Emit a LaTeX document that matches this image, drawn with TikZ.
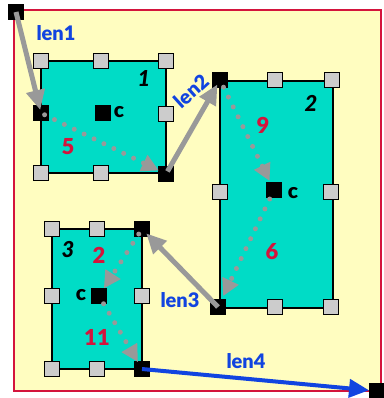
\documentclass[tikz,border=0pt]{standalone}
\usepackage{fontspec}
\setmainfont{Lato}[BoldFont={Lato Black},BoldItalicFont={Lato Black Italic}]
\usetikzlibrary{arrows.meta}
\definecolor{bgyellow}{HTML}{FFFDC0}
\definecolor{boxcyan}{HTML}{00DCC6}
\definecolor{framered}{HTML}{D4143C}
\definecolor{lenblue}{HTML}{1144E0}
\definecolor{arrgray}{HTML}{999999}
\definecolor{handlegray}{HTML}{CCCCCC}
\tikzset{
  frame/.style={draw=framered,line width=2pt,fill=bgyellow},
  boxshape/.style={draw=black,line width=2pt,fill=boxcyan,inner sep=0pt},
  hgray/.style={draw=black,line width=0.8pt,fill=handlegray,minimum size=15pt,inner sep=0pt},
  hblack/.style={draw=black,line width=0.8pt,fill=black,minimum size=15pt,inner sep=0pt},
  gline/.style={draw=arrgray,line width=5pt,-{Triangle[length=20pt,width=18pt]}},
  bline/.style={draw=lenblue,line width=4pt,-{Triangle[length=20pt,width=18pt]}},
  dline/.style={draw=arrgray,line width=5pt,line cap=round,dash pattern=on 0pt off 11pt,-{Triangle[length=17pt,width=17pt,line cap=butt]}},
  lenlab/.style={text=lenblue,font=\fontsize{20}{22}\selectfont\bfseries,inner sep=0pt},
  numlab/.style={text=framered,font=\fontsize{22}{24}\selectfont\bfseries,inner sep=0pt},
  boxlab/.style={text=black,font=\fontsize{22}{24}\selectfont\bfseries\itshape,inner sep=0pt},
  clab/.style={text=black,font=\fontsize{21}{23}\selectfont\bfseries,inner sep=0pt}
}
\begin{document}
\begin{tikzpicture}[x=1pt,y=-1pt]
\useasboundingbox (0,0) rectangle (383,398);
\draw[frame] (14,10) rectangle (381,391);
% boxes
\node[boxshape,minimum width=125pt,minimum height=112pt] (box1) at (103.5,117) {};
\node[boxshape,minimum width=113pt,minimum height=227pt] (box2) at (276.5,194.5) {};
\node[boxshape,minimum width=90pt,minimum height=140pt] (box3) at (97,299) {};
% box 1 handles
\node[hgray] (h11) at (41,61) {};
\node[hgray] (h12) at (101,61) {};
\node[hgray] (h13) at (166,61) {};
\node[hgray] (h14) at (166,114) {};
\node[hgray] (h15) at (41,173) {};
\node[hgray] (h16) at (101,173) {};
\node[hblack] (a1) at (41,113) {};
\node[hblack] (c1) at (103,113) {};
\node[hblack] (b1) at (166,174) {};
% box 2 handles
\node[hgray] (h21) at (275,80) {};
\node[hgray] (h22) at (332,80) {};
\node[hgray] (h23) at (220,192) {};
\node[hgray] (h24) at (331,192) {};
\node[hgray] (h25) at (275,307) {};
\node[hgray] (h26) at (331,307) {};
\node[hblack] (a2) at (220,80) {};
\node[hblack] (c2) at (274,190) {};
\node[hblack] (b2) at (218,307) {};
% box 3 handles
\node[hgray] (h31) at (52,229) {};
\node[hgray] (h32) at (97,229) {};
\node[hgray] (h33) at (52,296) {};
\node[hgray] (h34) at (142,296) {};
\node[hgray] (h35) at (52,369) {};
\node[hgray] (h36) at (97,369) {};
\node[hblack] (a3) at (142,229) {};
\node[hblack] (c3) at (99,296) {};
\node[hblack] (b3) at (142,369) {};
% start / end
\node[hblack] (s) at (16,12) {};
\node[hblack] (e) at (377,391) {};
% connectors
\draw[gline,shorten >=3pt] (s.center) -- (a1.center);
\draw[dline,shorten <=4pt,shorten >=8pt] (a1.center) -- (b1.center);
\draw[gline,shorten <=3pt,shorten >=5pt] (b1.center) -- (a2.center);
\draw[dline,shorten <=8pt,shorten >=10pt] (a2.center) -- (c2.center);
\draw[dline,shorten <=10pt,shorten >=12pt] (c2.center) -- (b2.center);
\draw[gline,shorten >=6pt] (b2.center) -- (a3.center);
\draw[dline,shorten <=6pt,shorten >=9pt] (a3.center) -- (c3.center);
\draw[dline,shorten <=9pt,shorten >=8pt] (c3.center) -- (b3.center);
\draw[bline,shorten >=8pt] (b3.center) -- (e.center);
% labels
\node[lenlab] (l1) at (56,33) {len1};
\node[lenlab,rotate=42] (l2) at (191,91) {len2};
\node[lenlab] (l3) at (180,300) {len3};
\node[lenlab] (l4) at (246,361) {len4};
\node[boxlab] (n1) at (144,79) {1};
\node[boxlab] (n2) at (311,103) {2};
\node[boxlab] (n3) at (68,250) {3};
\node[clab] (k1) at (119,112) {c};
\node[clab] (k2) at (293,193) {c};
\node[clab] (k3) at (81,295) {c};
\node[numlab] (m5) at (68,147) {5};
\node[numlab] (m9) at (263,125) {9};
\node[numlab] (m6) at (272,252) {6};
\node[numlab] (m2) at (99,255) {2};
\node[numlab] (m11) at (97,337) {11};
\end{tikzpicture}
\end{document}
